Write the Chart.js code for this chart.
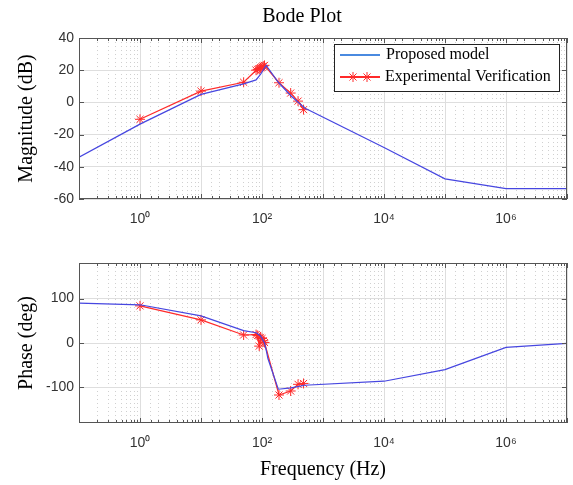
<!DOCTYPE html>
<html>
<head>
<meta charset="utf-8">
<script src="https://cdn.jsdelivr.net/npm/chart.js@4"></script>
<style>
  html, body { margin: 0; padding: 0; background: #fff; }
  #wrap { position: relative; width: 573px; height: 485px; }
  .box { position: absolute; left: 0; width: 573px; }
</style>
</head>
<body>
<div id="wrap">
  <div class="box" style="top:0;height:240px"><canvas id="magChart"></canvas></div>
  <div class="box" style="top:240px;height:245px"><canvas id="phaseChart"></canvas></div>
</div>
<script>
// Données du modèle (ligne bleue)
const modelFreq  = [0.1, 1, 10, 50, 80, 95, 110, 118, 125, 185, 300, 500, 1e4, 1e5, 1e6, 1e7];
const modelMag   = [-34, -13.5, 5, 11.5, 14, 17.5, 21.5, 23, 21.5, 12.5, 4, -3.5, -28, -47.5, -53.5, -53.5];
const modelPhase = [89.5, 86, 61, 28, 23, 16, 0, -18, -35, -104, -101, -95, -86, -60, -10, -1];

// Mesures expérimentales (étoiles rouges)
const expFreq  = [1, 10, 50, 80, 85, 90, 95, 100, 105, 110, 190, 295, 390, 480];
const expMag   = [-10.5, 7, 12.5, 20, 20.5, 21, 21.5, 22, 22.5, 23, 12.2, 5.8, 0.8, -4.5];
const expPhase = [83.5, 52, 18, 19, 17, -7, 12, 10, 5, 1, -117, -108, -93, -91];

const magTicks = [-60, -40, -20, 0, 20, 40];
const phaseTicks = [-100, 0, 100];
const legendLabels = ['Proposed model', 'Experimental Verification'];

const BLUE = '#4646e0';
const RED = '#ff2a2a';
const serif = '"Liberation Serif", "Times New Roman", serif';
const sans = '"Liberation Sans", Arial, sans-serif';
const sup = { '0': '\u2070', '1': '\u00b9', '2': '\u00b2', '3': '\u00b3', '4': '\u2074', '5': '\u2075', '6': '\u2076', '7': '\u2077', '-': '\u207b' };

function toPoints(xs, ys) {
    return xs.map((x, i) => ({ x: x, y: ys[i] }));
}

function isDecade(v) {
    const l = Math.log10(v);
    return Math.abs(l - Math.round(l)) < 1e-9;
}

// Cadre + petites graduations vers l'intérieur (style MATLAB)
const boxPlugin = {
    id: 'box',
    afterDatasetsDraw(chart) {
        const { ctx, chartArea: a, scales } = chart;
        ctx.save();
        ctx.strokeStyle = '#555';
        ctx.lineWidth = 1;
        ctx.strokeRect(a.left + 0.5, a.top + 0.5, a.right - a.left - 1, a.bottom - a.top - 1);
        ctx.beginPath();
        scales.x.ticks.forEach(t => {
            const px = Math.round(scales.x.getPixelForValue(t.value)) + 0.5;
            const len = isDecade(t.value) ? 5 : 3;
            ctx.moveTo(px, a.bottom); ctx.lineTo(px, a.bottom - len);
            ctx.moveTo(px, a.top); ctx.lineTo(px, a.top + len);
        });
        scales.y.ticks.forEach(t => {
            const py = Math.round(scales.y.getPixelForValue(t.value)) + 0.5;
            ctx.moveTo(a.left, py); ctx.lineTo(a.left + 5, py);
            ctx.moveTo(a.right, py); ctx.lineTo(a.right - 5, py);
        });
        ctx.stroke();
        ctx.restore();
    }
};

// Titre et légende dessinés à la main pour coller au rendu MATLAB
const magDecor = {
    id: 'magDecor',
    afterDraw(chart) {
        const ctx = chart.ctx;
        ctx.save();
        ctx.fillStyle = '#000';
        ctx.font = '20px ' + serif;
        ctx.textAlign = 'center';
        ctx.textBaseline = 'middle';
        ctx.fillText('Bode Plot', 302, 17);

        // Légende
        ctx.fillStyle = '#fff';
        ctx.fillRect(334, 44, 225, 47);
        ctx.strokeStyle = '#222';
        ctx.lineWidth = 1;
        ctx.strokeRect(334.5, 44.5, 225, 47);

        ctx.lineWidth = 2;
        ctx.strokeStyle = '#4a8ae0';
        ctx.beginPath(); ctx.moveTo(340, 55); ctx.lineTo(380, 55); ctx.stroke();
        ctx.strokeStyle = RED;
        ctx.beginPath(); ctx.moveTo(340, 77); ctx.lineTo(380, 77); ctx.stroke();
        ctx.lineWidth = 1;
        [353, 367].forEach(cx => {
            Chart.helpers.drawPoint(ctx, { pointStyle: 'star', radius: 5, borderWidth: 1 }, cx, 77);
        });

        ctx.fillStyle = '#000';
        ctx.font = '16px ' + serif;
        ctx.textAlign = 'left';
        ctx.fillText(legendLabels[0], 386, 55);
        ctx.fillText(legendLabels[1], 385, 77);
        ctx.restore();
    }
};

function xScale(showTitle) {
    return {
        type: 'logarithmic',
        min: 0.1,
        max: 1e7,
        afterFit: s => {
            s.height = showTitle ? 62 : 41;
            s.paddingLeft = 0;
            s.paddingRight = 0;
        },
        border: { display: false },
        grid: {
            drawTicks: false,
            color: ctx => ctx.tick && isDecade(ctx.tick.value) ? '#dedede' : 'rgba(0,0,0,0)'
        },
        ticks: {
            autoSkip: false,
            maxRotation: 0,
            padding: 12,
            color: '#333',
            font: { family: sans, size: 14 },
            callback: v => {
                if (!isDecade(v)) return '';
                const e = Math.round(Math.log10(v));
                if (e % 2 !== 0 || e < 0) return '';
                return '10' + String(e).split('').map(c => sup[c]).join('');
            }
        },
        title: {
            display: showTitle,
            text: 'Frequency (Hz)',
            color: '#000',
            font: { family: serif, size: 20 },
            padding: { top: 0, bottom: 3 }
        }
    };
}

// Axe secondaire pour la grille mineure en pointillés
function minorScale() {
    return {
        type: 'logarithmic',
        min: 0.1,
        max: 1e7,
        position: 'top',
        afterFit: s => {
            s.height = 0;
            s.paddingLeft = 0;
            s.paddingRight = 0;
        },
        border: { display: false, dash: [1, 3] },
        grid: {
            drawTicks: false,
            color: ctx => ctx.tick && !isDecade(ctx.tick.value) ? '#d0d0d0' : 'rgba(0,0,0,0)'
        },
        ticks: { display: false, autoSkip: false, callback: () => '' }
    };
}

function yScale(min, max, tickVals, title) {
    return {
        min: min,
        max: max,
        afterFit: s => { s.width = 79; },
        afterBuildTicks: s => { s.ticks = tickVals.map(v => ({ value: v })); },
        border: { display: false },
        grid: { drawTicks: false, color: '#dedede' },
        ticks: {
            padding: 5,
            color: '#333',
            font: { family: sans, size: 14 }
        },
        title: {
            display: true,
            text: title,
            color: '#000',
            font: { family: serif, size: 20 },
            padding: { top: 15, bottom: 0 }
        }
    };
}

function datasets(modelVals, expVals) {
    return [
        {
            label: legendLabels[0],
            data: toPoints(modelFreq, modelVals),
            borderColor: BLUE,
            borderWidth: 1.2,
            pointRadius: 0,
            tension: 0
        },
        {
            label: legendLabels[1],
            data: toPoints(expFreq, expVals),
            borderColor: RED,
            backgroundColor: RED,
            borderWidth: 1.2,
            pointStyle: 'star',
            pointRadius: 5,
            pointBorderWidth: 1,
            tension: 0
        }
    ];
}

const commonOptions = {
    responsive: true,
    maintainAspectRatio: false,
    animation: false,
    plugins: { legend: { display: false }, tooltip: { enabled: false } }
};

new Chart(document.getElementById('magChart').getContext('2d'), {
    type: 'line',
    data: { datasets: datasets(modelMag, expMag) },
    options: {
        ...commonOptions,
        layout: { padding: { top: 38, right: 2, left: 0, bottom: 0 } },
        scales: { x: xScale(false), x2: minorScale(), y: yScale(-60, 40, magTicks, 'Magnitude (dB)') }
    },
    plugins: [boxPlugin, magDecor]
});

new Chart(document.getElementById('phaseChart').getContext('2d'), {
    type: 'line',
    data: { datasets: datasets(modelPhase, expPhase) },
    options: {
        ...commonOptions,
        layout: { padding: { top: 23, right: 2, left: 0, bottom: 0 } },
        scales: { x: xScale(true), x2: minorScale(), y: yScale(-180, 180, phaseTicks, 'Phase (deg)') }
    },
    plugins: [boxPlugin]
});
</script>
</body>
</html>
